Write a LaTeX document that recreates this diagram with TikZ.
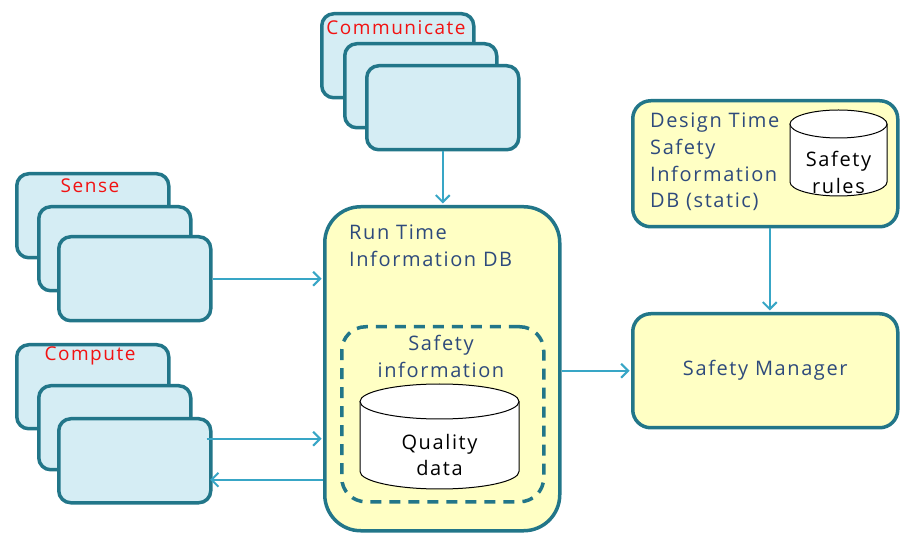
\documentclass[tikz,border=0pt]{standalone}
\usepackage{fontspec}
\setmainfont{Open Sans}[LetterSpace=8]
\usetikzlibrary{arrows.meta,calc}
\definecolor{cardfill}{HTML}{D5EDF4}
\definecolor{edge}{HTML}{227689}
\definecolor{dbfill}{HTML}{FFFFC4}
\definecolor{link}{HTML}{38A6C6}
\definecolor{navy}{HTML}{2E4A7C}
\definecolor{tagred}{HTML}{F21212}
\begin{document}
\begin{tikzpicture}[x=1pt,y=-1pt,
  card/.style={draw=edge, fill=cardfill, line width=3.5pt, rounded corners=12pt,
    minimum width=152pt, minimum height=84pt, inner sep=0pt, anchor=north west},
  store/.style={draw=edge, fill=dbfill, line width=3.5pt, anchor=north west, inner sep=0pt},
  flow/.style={draw=link, line width=2pt, shorten >=1.5pt,
    -{Straight Barb[length=7pt,width=14pt,line width=2pt]}},
  tag/.style={text=tagred, font=\fontsize{19}{22}\selectfont, inner sep=0pt},
  lbl/.style={text=navy, font=\fontsize{20}{26.7}\selectfont, inner sep=0pt, align=left},
  drum/.style={draw=black, fill=white, line width=1pt},
  drumtext/.style={text=black, font=\fontsize{20}{26.7}\selectfont, inner sep=0pt, align=center}
]
\useasboundingbox (0,0) rectangle (900,534);

% Communicate stack
\node[card] (comm1) at (320,12) {};
\node[tag] (commtag) at (396,28) {Communicate};
\node[card] (comm2) at (343,42) {};
\node[card] (comm3) at (365,64) {};

% Sense stack
\node[card] (sense1) at (15,172) {};
\node[tag] (sensetag) at (90,186) {Sense};
\node[card] (sense2) at (37,205) {};
\node[card] (sense3) at (57,235) {};

% Compute stack
\node[card] (comp1) at (15,343) {};
\node[tag] (comptag) at (90,356) {Compute};
\node[card] (comp2) at (37,384) {};
\node[card] (comp3) at (57,417) {};

% Run time information DB
\node[store, rounded corners=36pt, minimum width=235pt, minimum height=324pt] (rt) at (323,205) {};
\node[lbl, anchor=north west] (rttext) at (349,225) {Run Time\\Information DB};
\node[draw=edge, line width=3.5pt, dash pattern=on 11pt off 8pt, rounded corners=24pt,
  minimum width=202pt, minimum height=175pt, anchor=north west] (si) at (340,325) {};
\node[lbl, align=center, anchor=north] (sitext) at (441,335) {Safety\\information};

% Quality data store
\draw[drum] (360,401.5) -- (360,471.5) arc[start angle=180, end angle=0, x radius=79.5, y radius=17.5]
  -- (519,401.5);
\draw[drum] (439.5,401.5) ellipse[x radius=79.5, y radius=17.5];
\node[drumtext] (qd) at (439.5,455) {Quality\\data};

% Design time safety information DB
\node[store, rounded corners=18pt, minimum width=265pt, minimum height=126pt] (dt) at (631,99) {};
\node[lbl, anchor=north west] (dttext) at (650,113) {Design Time\\Safety\\Information\\DB (static)};
\draw[drum] (790,124) -- (790,182) arc[start angle=180, end angle=0, x radius=48.5, y radius=14]
  -- (887,124);
\draw[drum] (838.5,124) ellipse[x radius=48.5, y radius=14];
\node[drumtext] (sr) at (838.5,172.5) {Safety\\rules};

% Safety manager
\node[store, rounded corners=18pt, minimum width=265pt, minimum height=114pt,
  text=navy, font=\fontsize{20}{26.7}\selectfont] (sm) at (631,312) {Safety Manager};

% Connectors
\draw[flow] (comm3.south) -- (comm3.south |- rt.north);
\draw[flow] (sense3.east) -- (sense3.east -| rt.west);
\coordinate (cout) at ($(comp3.east)+(-6,-22)$);
\coordinate (cin) at ($(comp3.east)+(-4,19)$);
\draw[flow] (cout) -- (cout -| rt.west);
\draw[flow] (cin -| rt.west) -- (cin);
\draw[flow] (sm.west -| rt.east) -- (sm.west);
\draw[flow] ($(dt.south)+(4.5,0)$) -- ($(sm.north)+(4.5,0)$);
\end{tikzpicture}
\end{document}
